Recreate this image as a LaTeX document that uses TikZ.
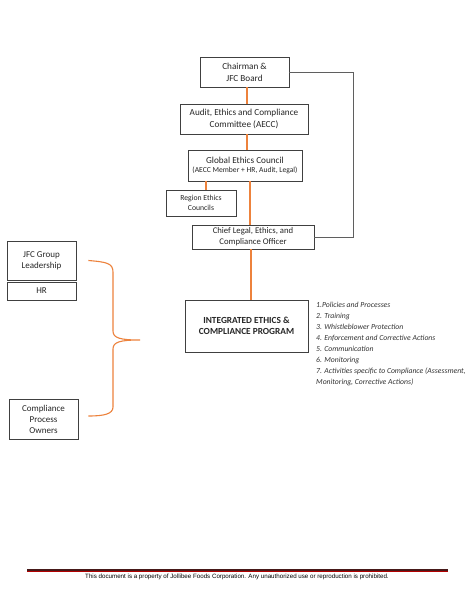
\documentclass[tikz,border=0pt]{standalone}
\usepackage{fontspec}
\setmainfont{Carlito}
\newfontfamily\footfont{Liberation Sans}
\usepackage{tikz}
\usetikzlibrary{calc}
\usepackage{xcolor}
\definecolor{ColA}{RGB}{237,130,60}
\definecolor{ColB}{RGB}{64,64,64}
\definecolor{ColC}{RGB}{95,95,95}
\definecolor{ColD}{RGB}{70,25,25}
\tikzstyle{BoxOrg}=[rectangle,draw=ColB,line width=0.9pt,inner sep=1pt,align=center,
text=black!85,font=\fontsize{9.2}{11.7}\selectfont]
\tikzstyle{EdgeOrg}=[ColA,line width=1.3pt]
\tikzstyle{EdgeSide}=[ColC,line width=0.9pt]

\begin{document}
\begin{tikzpicture}[x=1pt,y=-1pt]
        \useasboundingbox[fill=white](0,0)rectangle(474,615);
        % chain of boxes
        \node[BoxOrg,minimum width=89pt,minimum height=30pt](chair)at(244.5,72){Chairman \&\\JFC Board};
        \node[BoxOrg,minimum width=128pt,minimum height=30pt](audit)at(244,119){Audit, Ethics and Compliance\\Committee (AECC)};
        \node[BoxOrg,minimum width=114pt,minimum height=31pt](global)at(245,165.5){Global Ethics Council\\[-2.5pt]{\fontsize{7.6}{9}\selectfont(AECC Member + HR, Audit, Legal)}};
        \node[BoxOrg,minimum width=70pt,minimum height=26pt,font=\fontsize{7.7}{10}\selectfont](region)at(201,203){Region Ethics\\Councils};
        \node[BoxOrg,minimum width=122pt,minimum height=24pt,font=\fontsize{8.7}{11}\selectfont](chief)at(253,237){Chief Legal, Ethics, and\\Compliance Officer};
        \node[BoxOrg,minimum width=123pt,minimum height=52pt,font=\bfseries\fontsize{9.3}{11}\selectfont](integ)at(246.5,326){INTEGRATED ETHICS \&\\COMPLIANCE PROGRAM};
        % left side boxes
        \node[BoxOrg,minimum width=69pt,minimum height=39pt,font=\fontsize{9}{10.8}\selectfont](jfc)at(41.5,260.5){JFC Group\\Leadership};
        \node[BoxOrg,minimum width=69pt,minimum height=18pt,font=\fontsize{9}{10.8}\selectfont](hr)at(41.5,291){HR};
        \node[BoxOrg,minimum width=69pt,minimum height=40pt,font=\fontsize{9}{11}\selectfont](cpo)at(43.5,419){Compliance\\Process\\Owners};
        % program list
        \node[anchor=north west,align=left,inner sep=0pt,text=black!80,
        font=\itshape\fontsize{7.7}{11}\selectfont](list)at(316,302){1.Policies and Processes\\
        2. Training\\
        3. Whistleblower Protection\\
        4. Enforcement and Corrective Actions\\
        5. Communication\\
        6. Monitoring\\
        7. Activities specific to Compliance (Assessment,\\
        Monitoring, Corrective Actions)};
        % connectors
        \draw[EdgeOrg]([xshift=2.5pt]chair.south)--([xshift=2.5pt]chair.south|-audit.north);
        \draw[EdgeOrg]([xshift=3pt]audit.south)--([xshift=3pt]audit.south|-global.north);
        \draw[EdgeOrg]([xshift=5pt]region.north)--([xshift=5pt]region.north|-global.south);
        \draw[EdgeOrg]([xshift=5pt]global.south)--([xshift=5pt]global.south|-chief.north);
        \draw[EdgeOrg]([xshift=-2pt]chief.south)--([xshift=-2pt]chief.south|-integ.north);
        \draw[EdgeSide](chair.east)-|([xshift=39pt]chief.east)--(chief.east);
        % brace
        \coordinate(braceTop)at([xshift=12pt]jfc.east);
        \coordinate(braceBot)at([xshift=10pt,yshift=3pt]cpo.east);
        \coordinate(braceTip)at(140,340);
        \draw[EdgeOrg,line width=1.1pt](braceTop)..controls(106,262)and(113,263)..(113,272)
        --(113,331)..controls(113,338)and(120,340)..(braceTip)
        ..controls(120,340)and(113,342)..(113,349)--(113,407)
        ..controls(113,414)and(104,416)..(braceBot);
        % footer
        \coordinate(footL)at(27,570);
        \coordinate(footR)at(448,570);
        \draw[ColD,line width=1.8pt](footL)--(footR);
        \draw[red!70!black,line width=0.5pt]([yshift=-1.3pt]footL)--([yshift=-1.3pt]footR);
        \node[font=\footfont\fontsize{6.2}{7}\selectfont,inner sep=0pt](foot)at(237,577){This document is a property of Jollibee Foods Corporation. Any unauthorized use or reproduction is prohibited.};
    \end{tikzpicture}
\end{document}
